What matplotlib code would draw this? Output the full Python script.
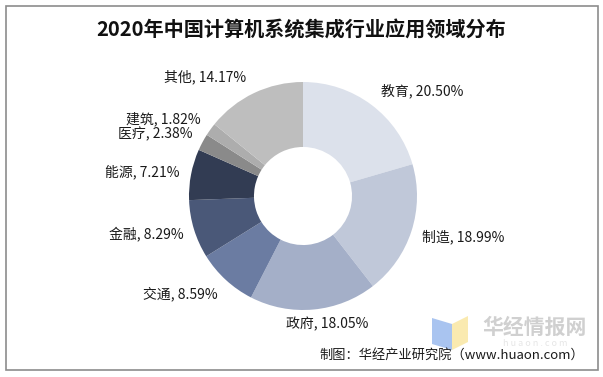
import numpy as np
import matplotlib.pyplot as plt
from matplotlib.patches import Rectangle, Polygon

plt.rcParams['font.family'] = ['Noto Sans CJK SC', 'DejaVu Sans']

# data
categories = ['教育', '制造', '政府', '交通', '金融', '能源', '医疗', '建筑', '其他']
shares = [20.50, 18.99, 18.05, 8.59, 8.29, 7.21, 2.38, 1.82, 14.17]
colors = ['#DCE1EB', '#C0C8D9', '#A4AFC8', '#6B7CA2', '#4A5878', '#323C53',
          '#8A8A8A', '#ADADAD', '#BEBEBE']

# label anchors in units of the pie radius (x, y, ha)
label_pos = [(0.68, 0.92, 'left'), (1.04, -0.36, 'left'), (0.21, -1.12, 'center'),
             (-0.75, -0.86, 'right'), (-1.05, -0.33, 'right'), (-1.08, 0.21, 'right'),
             (-0.97, 0.54, 'right'), (-0.90, 0.68, 'right'), (-0.86, 1.04, 'center')]

fig = plt.figure(figsize=(6.03, 3.77), dpi=100)

# outer frame
fig.patches.append(Rectangle((6 / 603, 1 - 370 / 377), 592 / 603, 364 / 377,
                             transform=fig.transFigure, fill=False,
                             edgecolor='#8c8c8c', linewidth=1.2))

fig.text(0.5, 1 - 30 / 377, '2020年中国计算机系统集成行业应用领域分布',
         ha='center', va='center', fontsize=14.5, fontweight='bold', color='#111111')

cx, cy, r = 303, 377 - 196, 114
ax = fig.add_axes([(cx - r) / 603, (cy - r) / 377, 2 * r / 603, 2 * r / 377])
ax.pie(shares, colors=colors, startangle=90, counterclock=False, radius=1,
       wedgeprops=dict(width=0.57, edgecolor='none'))
ax.set_xlim(-1, 1)
ax.set_ylim(-1, 1)
ax.set_aspect('auto')
ax.axis('off')

for cat, val, (x, y, ha) in zip(categories, shares, label_pos):
    ax.text(x, y, f'{cat}, {val:.2f}%', ha=ha, va='center', fontsize=10,
            color='#1a1a1a')

# watermark
fig.patches.append(Polygon([(432 / 603, 1 - 318 / 377), (452 / 603, 1 - 324 / 377),
                            (452 / 603, 1 - 350 / 377), (432 / 603, 1 - 344 / 377)],
                           closed=True, transform=fig.transFigure,
                           facecolor='#a9c4f0', edgecolor='none', zorder=0))
fig.patches.append(Polygon([(452 / 603, 1 - 324 / 377), (468 / 603, 1 - 316 / 377),
                            (468 / 603, 1 - 342 / 377), (452 / 603, 1 - 350 / 377)],
                           closed=True, transform=fig.transFigure,
                           facecolor='#faeab0', edgecolor='none', zorder=0))
fig.text(535 / 603, 1 - 327 / 377, '华经情报网', ha='center', va='center',
         fontsize=15, fontweight='bold', color='#d0d0d0', zorder=0)
fig.text(535 / 603, 1 - 343 / 377, 'h u a o n . c o m', ha='center', va='center',
         fontsize=6.5, color='#e6e6e6', zorder=0)

fig.text(584 / 603, 1 - 355 / 377, '制图：华经产业研究院（www.huaon.com）',
         ha='right', va='center', fontsize=9.5, color='#1a1a1a')

fig.savefig('out.png', dpi=100, facecolor='white')
